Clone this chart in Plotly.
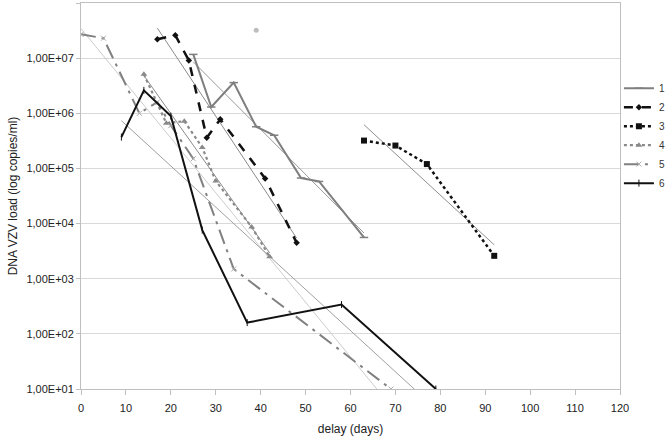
import numpy as np
import plotly.graph_objects as go

# ---- data ----
s1_days = [25, 29, 34, 39, 43, 49, 53, 63]
s1_load = [1.17e7, 1.3e6, 3.6e6, 5.7e5, 4.0e5, 6.7e4, 5.8e4, 5.6e3]

s2_days = [17, 21, 24, 28, 31, 41, 48]
s2_load = [2.2e7, 2.6e7, 9.1e6, 3.6e5, 7.8e5, 6.6e4, 4.5e3]

s3_days = [63, 70, 77, 92]
s3_load = [3.2e5, 2.6e5, 1.2e5, 2.6e3]

s4_days = [14, 19, 23, 27, 30, 38, 42]
s4_load = [5.1e6, 6.6e5, 7.2e5, 2.4e5, 5.9e4, 8.7e3, 2.5e3]

s5_days = [0, 5, 13, 17, 20, 25, 34, 69]
s5_load = [2.7e7, 2.3e7, 1.0e6, 1.6e6, 6.0e5, 1.5e5, 1.5e3, 1.0e1]

s6_days = [9, 14, 20, 27, 37, 58, 79]
s6_load = [3.7e5, 2.6e6, 8.9e5, 7.6e3, 1.6e2, 3.4e2, 1.0e1]

stray_days = [39]
stray_load = [3.2e7]

series_names = ["1", "2", "3", "4", "5", "6"]
x_ticks = list(range(0, 121, 10))
y_tickvals = [1e1, 1e2, 1e3, 1e4, 1e5, 1e6, 1e7, 1e8]
y_ticktext = ["1,00E+01", "1,00E+02", "1,00E+03", "1,00E+04",
              "1,00E+05", "1,00E+06", "1,00E+07", "1,00E+08"]

series = [
    (s1_days, s1_load, dict(color="#7f7f7f", width=2, dash="solid"),
     dict(symbol="line-ew", size=6, line=dict(color="#7f7f7f", width=1.5)), "#9a9a9a"),
    (s2_days, s2_load, dict(color="#111111", width=2.5, dash="dash"),
     dict(symbol="diamond", size=5, color="#111111"), "#8a8a8a"),
    (s3_days, s3_load, dict(color="#111111", width=2.5, dash="dot"),
     dict(symbol="square", size=6, color="#111111"), "#8f8f8f"),
    (s4_days, s4_load, dict(color="#8a8a8a", width=2.2, dash="dot"),
     dict(symbol="triangle-up", size=6, color="#8a8a8a"), "#8a8a8a"),
    (s5_days, s5_load, dict(color="#808080", width=2, dash="longdashdot"),
     dict(symbol="x-thin", size=5, line=dict(color="#aaaaaa", width=1)), "#cccccc"),
    (s6_days, s6_load, dict(color="#111111", width=2, dash="solid"),
     dict(symbol="line-ns", size=5, line=dict(color="#111111", width=1)), "#a0a0a0"),
]

fig = go.Figure()

# exponential trend lines (least squares on log10 of the load), like the spreadsheet's
for (d, v, ln, mk, tcol) in series:
    d_arr = np.array(d, dtype=float)
    coef = np.polyfit(d_arr, np.log10(v), 1)
    xs = np.array([d_arr.min(), d_arr.max()])
    fig.add_trace(go.Scatter(x=xs, y=10 ** np.polyval(coef, xs), mode="lines",
                             line=dict(color=tcol, width=1), showlegend=False,
                             hoverinfo="skip"))

for name, (d, v, ln, mk, tcol) in zip(series_names, series):
    fig.add_trace(go.Scatter(x=d, y=v, mode="lines+markers", name=name,
                             line=ln, marker=mk))

fig.add_trace(go.Scatter(x=stray_days, y=stray_load, mode="markers",
                         marker=dict(symbol="circle", size=5, color="#bdbdbd"),
                         showlegend=False))

font_family = "Arial, Liberation Sans, sans-serif"
fig.update_layout(
    width=666, height=436,
    margin=dict(l=81, r=46, t=3, b=47, autoexpand=False),
    paper_bgcolor="white", plot_bgcolor="white",
    font=dict(family=font_family, size=11, color="#222222"),
    showlegend=True,
    legend=dict(x=0.998, y=0.817, xanchor="left", yanchor="top",
                font=dict(size=10, color="#333333"), tracegroupgap=0,
                itemwidth=30, bgcolor="rgba(0,0,0,0)"),
    xaxis=dict(range=[0, 120], tickvals=x_ticks, showgrid=False, automargin=False,
               showline=True, linecolor="#bfbfbf", linewidth=1, mirror=True,
               ticks="outside", ticklen=5, tickcolor="#bfbfbf",
               ticklabelstandoff=4,
               zeroline=False, tickfont=dict(size=11, color="#222222"),
               title=dict(text="delay (days)", font=dict(size=12, color="#222222"),
                          standoff=14)),
    yaxis=dict(type="log", range=[1, 8], tickvals=y_tickvals, ticktext=y_ticktext,
               automargin=False,
               showgrid=True, gridcolor="#d9d9d9", gridwidth=1,
               showline=True, linecolor="#bfbfbf", linewidth=1, mirror=True,
               ticks="outside", ticklen=4, tickcolor="#bfbfbf",
               zeroline=False, tickfont=dict(size=11, color="#222222"),
               title=dict(text="DNA VZV load (log copies/ml)",
                          font=dict(size=12, color="#222222"), standoff=6)),
)

fig.write_html("out.html", config={"displayModeBar": False},
               post_script="document.body.style.margin='0px';"
                           "document.body.style.overflow='hidden';")
